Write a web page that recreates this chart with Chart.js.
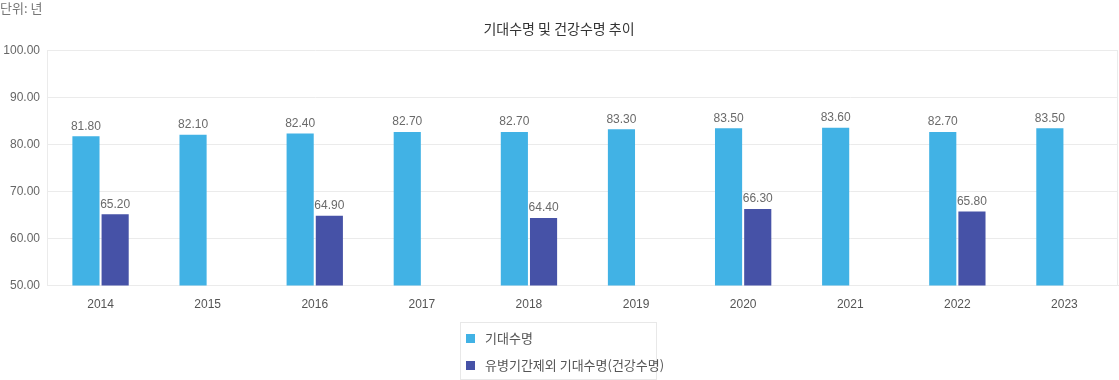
<!DOCTYPE html>
<html><head><meta charset="utf-8">
<script src="https://cdn.jsdelivr.net/npm/chart.js@4/dist/chart.umd.min.js"></script>
<style>
html,body{margin:0;padding:0;background:#fff;}
#wrap{position:relative;width:1119px;height:380px;overflow:hidden;}
#unit{position:absolute;left:0;top:0;font:13px "Noto Sans CJK KR",sans-serif;color:#777;line-height:16px;}
#legend{position:absolute;left:460px;top:322px;width:197px;height:58px;border:1px solid #e8e8e8;box-sizing:border-box;font:13px "Noto Sans CJK KR",sans-serif;color:#555;}
#legend .it{position:absolute;left:5px;height:16px;line-height:16px;white-space:nowrap;}
#legend .sw{display:inline-block;width:9px;height:9px;margin-right:10px;vertical-align:middle;position:relative;top:-1px;}
</style></head>
<body><div id="wrap">
<canvas id="c" width="1119" height="380"></canvas>
<div id="unit">단위: 년</div>
<div id="legend"></div>
</div>
<script>
const categories = ['2014','2015','2016','2017','2018','2019','2020','2021','2022','2023'];
const lifeExpectancy = [81.8,82.1,82.4,82.7,82.7,83.3,83.5,83.6,82.7,83.5];
const healthyLifeExpectancy = [65.2,null,64.9,null,64.4,null,66.3,null,65.8,null];
const seriesNames = ['기대수명','유병기간제외 기대수명(건강수명)'];
const seriesColors = ['#41B2E5','#4652A7'];
const titleText = '기대수명 및 건강수명 추이';

const numFont = '"Liberation Sans Narrow","Liberation Sans",sans-serif';

const valueLabels = {
  id:'valueLabels',
  afterDatasetsDraw(chart){
    const ctx = chart.ctx;
    ctx.save();
    ctx.font = '12px ' + numFont;
    ctx.fillStyle = '#6a6a6a';
    ctx.textAlign = 'center';
    ctx.textBaseline = 'bottom';
    chart.data.datasets.forEach((ds,i)=>{
      chart.getDatasetMeta(i).data.forEach((bar,j)=>{
        const v = ds.data[j];
        if(v==null) return;
        ctx.fillText(v.toFixed(2), bar.x, bar.y - 4);
      });
    });
    ctx.restore();
  }
};
const frame = {
  id:'frame',
  beforeDatasetsDraw(chart){
    const a = chart.chartArea, ctx = chart.ctx;
    ctx.save();
    ctx.strokeStyle = '#ebebeb';
    ctx.lineWidth = 1;
    ctx.beginPath();
    ctx.moveTo(Math.round(a.right)-0.5, a.top);
    ctx.lineTo(Math.round(a.right)-0.5, a.bottom);
    ctx.stroke();
    ctx.restore();
  }
};

new Chart(document.getElementById('c'), {
  type:'bar',
  data:{
    labels:categories,
    datasets:[
      {label:seriesNames[0], data:lifeExpectancy, backgroundColor:seriesColors[0]},
      {label:seriesNames[1], data:healthyLifeExpectancy, backgroundColor:seriesColors[1]}
    ]
  },
  options:{
    responsive:false,
    animation:false,
    devicePixelRatio:1,
    layout:{padding:{top:20,right:1,left:0,bottom:56}},
    datasets:{bar:{categoryPercentage:0.545,barPercentage:0.93}},
    plugins:{
      legend:{display:false},
      tooltip:{enabled:false},
      title:{display:true,text:titleText,color:'#333',font:{family:'"Noto Sans CJK KR",sans-serif',size:14,weight:'normal'},padding:{top:0,bottom:14}}
    },
    scales:{
      x:{
        grid:{display:false,drawTicks:false},
        border:{display:true,color:'#ebebeb'},
        ticks:{color:'#555',font:{family:numFont,size:12},padding:12}
      },
      y:{
        min:50,max:100,
        afterFit(s){s.width=47;},
        grid:{color:'#ebebeb',drawTicks:false},
        border:{display:true,color:'#ebebeb'},
        ticks:{stepSize:10,color:'#666',font:{family:numFont,size:12},padding:7,callback:v=>v.toFixed(2)}
      }
    }
  },
  plugins:[valueLabels,frame]
});

const lg = document.getElementById('legend');
seriesNames.forEach((n,i)=>{
  const d = document.createElement('div');
  d.className='it';
  d.style.top = (i===0?7:34)+'px';
  d.innerHTML = '<span class="sw" style="background:'+seriesColors[i]+'"></span>';
  d.appendChild(document.createTextNode(n));
  lg.appendChild(d);
});
</script>
</body></html>
